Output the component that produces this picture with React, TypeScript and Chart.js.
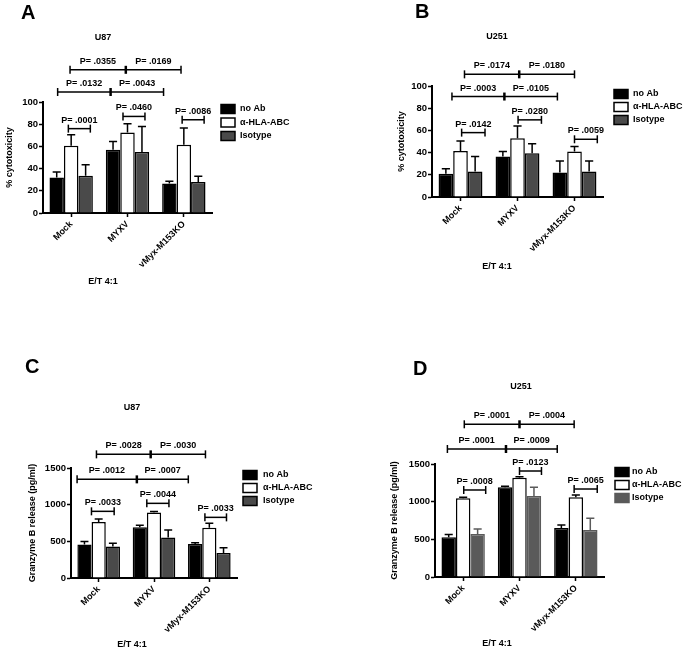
import React, { useEffect, useRef } from 'react';
import { Chart, registerables } from 'chart.js';
Chart.register(...registerables);

const FONT = "'Liberation Sans', Arial, Helvetica, sans-serif";

const categories = ['Mock', 'MYXV', 'vMyx-M153KO'];
const seriesNames = ['no Ab', 'α-HLA-ABC', 'Isotype'];
const xCaption = 'E/T 4:1';

// ---- Panel A: U87, % cytotoxicity ----
const aNoAb = [32, 57, 26.5];
const aNoAbErr = [5, 7.5, 2];
const aHla = [60.5, 72.5, 61.5];
const aHlaErr = [10, 8, 15];
const aIso = [33.5, 55, 28];
const aIsoErr = [10, 23, 5];
const aBrackets = [
  { xs: [-0.05, 0.34], y: 76, labels: ['P= .0001'] },
  { xs: [0.92, 1.31], y: 87, labels: ['P= .0460'] },
  { xs: [1.97, 2.36], y: 84, labels: ['P= .0086'] },
  { xs: [-0.24, 0.7, 1.64], y: 109, labels: ['P= .0132', 'P= .0043'] },
  { xs: [-0.02, 0.97, 1.95], y: 129, labels: ['P= .0355', 'P= .0169'] },
];

// ---- Panel B: U251, % cytotoxicity ----
const bNoAb = [21, 36.5, 22];
const bNoAbErr = [4.5, 4.5, 10.5];
const bHla = [41.5, 53, 41];
const bHlaErr = [9, 11, 4.5];
const bIso = [23, 39.5, 23];
const bIsoErr = [13.5, 8.5, 9.5];
const bBrackets = [
  { xs: [0.02, 0.43], y: 58, labels: ['P= .0142'] },
  { xs: [1.01, 1.42], y: 69.5, labels: ['P= .0280'] },
  { xs: [2.0, 2.4], y: 52, labels: ['P= .0059'] },
  { xs: [-0.15, 0.77, 1.7], y: 90.5, labels: ['P= .0003', 'P= .0105'] },
  { xs: [0.07, 1.03, 2.0], y: 110.5, labels: ['P= .0174', 'P= .0180'] },
];

// ---- Panel C: U87, Granzyme B (pg/ml) ----
const cNoAb = [457, 693, 462];
const cNoAbErr = [42, 25, 20];
const cHla = [762, 893, 686];
const cHlaErr = [42, 15, 60];
const cIso = [430, 553, 340];
const cIsoErr = [43, 100, 74];
const cBrackets = [
  { xs: [-0.13, 0.28], y: 909, labels: ['P= .0033'] },
  { xs: [0.87, 1.27], y: 1018, labels: ['P= .0044'] },
  { xs: [1.92, 2.31], y: 827, labels: ['P= .0033'] },
  { xs: [-0.39, 0.69, 1.62], y: 1345, labels: ['P= .0012', 'P= .0007'] },
  { xs: [-0.04, 0.94, 1.93], y: 1686, labels: ['P= .0028', 'P= .0030'] },
];

// ---- Panel D: U251, Granzyme B (pg/ml) ----
const dNoAb = [527, 1190, 650];
const dNoAbErr = [36, 14, 40];
const dHla = [1045, 1319, 1058];
const dHlaErr = [14, 13, 30];
const dIso = [571, 1075, 624];
const dIsoErr = [66, 115, 155];
const dBrackets = [
  { xs: [0.01, 0.4], y: 1155, labels: ['P= .0008'] },
  { xs: [1.0, 1.39], y: 1407, labels: ['P= .0123'] },
  { xs: [1.97, 2.38], y: 1168, labels: ['P= .0065'] },
  { xs: [-0.28, 0.76, 1.67], y: 1699, labels: ['P= .0001', 'P= .0009'] },
  { xs: [0.02, 1.0, 1.97], y: 2027, labels: ['P= .0001', 'P= .0004'] },
];

const GRAY = '#4a4a4a';
const GRAY_D = '#5a5a5a';

const panels = [
  {
    key: 'A', letter: 'A', title: 'U87', yTitle: '% cytotoxicity', yMax: 100, step: 20,
    left: 0, top: 0, w: 345, h: 326,
    padding: { left: 0, top: 102, right: 133, bottom: 43 }, yAxisW: 43, xAxisH: 70,
    letterPos: [21, 18.5], titlePos: [103, 37.5], capPos: [103, 282],
    legend: { boxX: 221, textX: 240, rows: [109, 122.5, 136] },
    series: [[aNoAb, aNoAbErr], [aHla, aHlaErr], [aIso, aIsoErr]],
    fills: ['#000000', '#ffffff', GRAY], borders: ['#000000', '#000000', '#000000'], errColors: ['#000', '#000', '#000'],
    brackets: aBrackets,
  },
  {
    key: 'B', letter: 'B', title: 'U251', yTitle: '% cytotoxicity', yMax: 100, step: 20,
    left: 345, top: 0, w: 344, h: 326,
    padding: { left: 47, top: 86, right: 86, bottom: 59 }, yAxisW: 40, xAxisH: 70,
    letterPos: [70, 18.3], titlePos: [152, 37], capPos: [152, 266.5],
    legend: { boxX: 269, textX: 288, rows: [94, 107, 120] },
    series: [[bNoAb, bNoAbErr], [bHla, bHlaErr], [bIso, bIsoErr]],
    fills: ['#000000', '#ffffff', GRAY], borders: ['#000000', '#000000', '#000000'], errColors: ['#000', '#000', '#000'],
    brackets: bBrackets,
  },
  {
    key: 'C', letter: 'C', title: 'U87', yTitle: 'Granzyme B release (pg/ml)', yMax: 1500, step: 500,
    left: 0, top: 326, w: 345, h: 325,
    padding: { left: 23, top: 142, right: 108, bottom: 3 }, yAxisW: 48, xAxisH: 70,
    letterPos: [25, 47], titlePos: [132, 81.5], capPos: [132, 318.5],
    legend: { boxX: 243, textX: 263, rows: [149, 162, 175] },
    series: [[cNoAb, cNoAbErr], [cHla, cHlaErr], [cIso, cIsoErr]],
    fills: ['#000000', '#ffffff', GRAY], borders: ['#000000', '#000000', '#000000'], errColors: ['#000', '#000', '#000'],
    brackets: cBrackets,
  },
  {
    key: 'D', letter: 'D', title: 'U251', yTitle: 'Granzyme B release (pg/ml)', yMax: 1500, step: 500,
    left: 345, top: 326, w: 344, h: 325,
    padding: { left: 40, top: 138, right: 85, bottom: 4 }, yAxisW: 50, xAxisH: 70,
    letterPos: [68, 49], titlePos: [176, 61], capPos: [152, 318],
    legend: { boxX: 270, textX: 287, rows: [146, 159, 172] },
    series: [[dNoAb, dNoAbErr], [dHla, dHlaErr], [dIso, dIsoErr]],
    fills: ['#000000', '#ffffff', GRAY_D], borders: ['#000000', '#000000', GRAY_D], errColors: ['#000', '#000', GRAY_D],
    brackets: dBrackets,
  },
];

const errorBarPlugin = {
  id: 'errorBars',
  afterDatasetsDraw(chart: any) {
    const { ctx } = chart;
    const y = chart.scales.y;
    chart.data.datasets.forEach((ds: any, i: number) => {
      const meta = chart.getDatasetMeta(i);
      meta.data.forEach((bar: any, j: number) => {
        const v = ds.data[j];
        const e = ds.errors[j];
        const yBase = y.getPixelForValue(v);
        const yTop = y.getPixelForValue(v + e);
        const half = bar.width * 0.28;
        ctx.save();
        ctx.strokeStyle = ds.errorColor;
        ctx.lineWidth = 1.5;
        ctx.beginPath();
        ctx.moveTo(bar.x, yBase);
        ctx.lineTo(bar.x, yTop);
        ctx.moveTo(bar.x - half, yTop);
        ctx.lineTo(bar.x + half, yTop);
        ctx.stroke();
        ctx.restore();
      });
    });
  },
};

function makeDecorPlugin(cfg: any) {
  return {
    id: 'decor' + cfg.key,
    afterDraw(chart: any) {
      const { ctx } = chart;
      const x = chart.scales.x;
      const y = chart.scales.y;
      ctx.save();
      ctx.fillStyle = '#000';
      // panel letter
      ctx.font = `bold 20px ${FONT}`;
      ctx.textAlign = 'left';
      ctx.textBaseline = 'alphabetic';
      ctx.fillText(cfg.letter, cfg.letterPos[0], cfg.letterPos[1]);
      // title & caption
      ctx.font = `bold 9px ${FONT}`;
      ctx.textAlign = 'center';
      ctx.textBaseline = 'middle';
      ctx.fillText(cfg.title, cfg.titlePos[0], cfg.titlePos[1]);
      ctx.fillText(xCaption, cfg.capPos[0], cfg.capPos[1]);
      // legend
      ctx.textAlign = 'left';
      seriesNames.forEach((name, i) => {
        const ry = cfg.legend.rows[i];
        ctx.fillStyle = cfg.fills[i];
        ctx.fillRect(cfg.legend.boxX, ry - 4.5, 14, 9);
        ctx.strokeStyle = cfg.borders[i];
        ctx.lineWidth = 1.5;
        ctx.strokeRect(cfg.legend.boxX, ry - 4.5, 14, 9);
        ctx.fillStyle = '#000';
        ctx.fillText(name, cfg.legend.textX, ry);
      });
      // significance brackets
      ctx.strokeStyle = '#000';
      ctx.textAlign = 'center';
      ctx.textBaseline = 'alphabetic';
      cfg.brackets.forEach((b: any) => {
        const py = y.getPixelForValue(b.y);
        const pxs = b.xs.map((v: number) => x.getPixelForValue(v));
        ctx.lineWidth = 1.5;
        ctx.beginPath();
        ctx.moveTo(pxs[0], py);
        ctx.lineTo(pxs[pxs.length - 1], py);
        ctx.stroke();
        pxs.forEach((px: number, k: number) => {
          const mid = k > 0 && k < pxs.length - 1;
          ctx.lineWidth = mid ? 2.5 : 1.5;
          ctx.beginPath();
          ctx.moveTo(px, py - 4);
          ctx.lineTo(px, py + 4);
          ctx.stroke();
        });
        b.labels.forEach((lab: string, k: number) => {
          const cx = (pxs[k] + pxs[k + 1]) / 2;
          ctx.fillText(lab, cx, py - 6);
        });
      });
      ctx.restore();
    },
  };
}

function Panel({ cfg }: { cfg: any }) {
  const ref = useRef<HTMLCanvasElement | null>(null);
  useEffect(() => {
    if (!ref.current) return;
    const tickFont = { family: FONT, size: 9.5, weight: 'bold' as const };
    const titleFont = { family: FONT, size: 9, weight: 'bold' as const };
    const chart = new Chart(ref.current, {
      type: 'bar',
      data: {
        labels: categories,
        datasets: cfg.series.map((s: any, i: number) => ({
          label: seriesNames[i],
          data: s[0],
          errors: s[1],
          errorColor: cfg.errColors[i],
          backgroundColor: cfg.fills[i],
          borderColor: cfg.borders[i],
          borderWidth: 1.5,
          categoryPercentage: 0.77,
          barPercentage: 1,
        })),
      },
      options: {
        responsive: false,
        animation: false,
        devicePixelRatio: 1,
        layout: { padding: cfg.padding },
        plugins: {
          legend: { display: false },
          tooltip: { enabled: false },
          title: { display: false },
        },
        scales: {
          x: {
            grid: { offset: false, drawOnChartArea: false, tickLength: 4, color: '#000', tickWidth: 1.5 },
            border: { color: '#000', width: 2 },
            ticks: { color: '#000', font: titleFont, minRotation: 45, maxRotation: 45, padding: 2, autoSkip: false },
            afterFit: (s: any) => { s.height = cfg.xAxisH; },
          },
          y: {
            min: 0,
            max: cfg.yMax,
            grid: { drawOnChartArea: false, tickLength: 4, color: '#000', tickWidth: 1.5 },
            border: { color: '#000', width: 2 },
            ticks: { stepSize: cfg.step, color: '#000', font: tickFont, padding: 1, callback: (v: any) => String(v) },
            title: { display: true, text: cfg.yTitle, color: '#000', font: titleFont, padding: { top: 4, bottom: 4 } },
            afterFit: (s: any) => { s.width = cfg.yAxisW; },
          },
        },
      } as any,
      plugins: [errorBarPlugin, makeDecorPlugin(cfg)],
    } as any);
    return () => chart.destroy();
  }, [cfg]);
  return (
    <canvas
      ref={ref}
      width={cfg.w}
      height={cfg.h}
      style={{ position: 'absolute', left: cfg.left, top: cfg.top, width: cfg.w, height: cfg.h }}
    />
  );
}

export default function App() {
  return (
    <div style={{ position: 'fixed', left: 0, top: 0, width: 689, height: 651, background: '#fff' }}>
      {panels.map((p) => (
        <Panel key={p.key} cfg={p} />
      ))}
    </div>
  );
}
